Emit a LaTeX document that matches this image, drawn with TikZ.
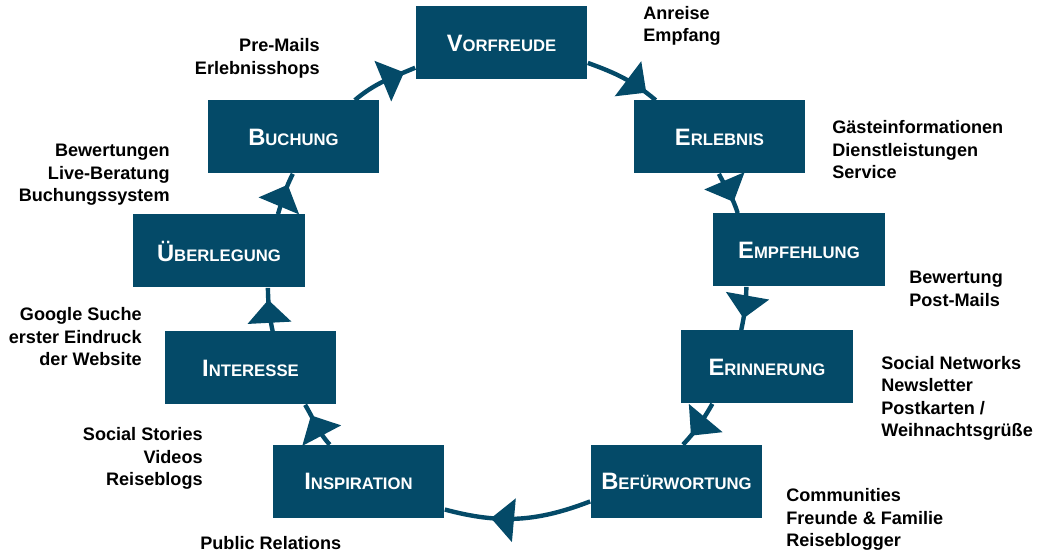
\documentclass[tikz,border=0pt]{standalone}
\usepackage{fontspec}
\setmainfont{Liberation Sans}
\usepackage{tikz}
\usetikzlibrary{arrows.meta,decorations.markings}
\definecolor{petrol}{RGB}{4,74,104}
\newcommand{\capword}[2]{{\fontsize{13.5}{16}\selectfont #1}{\fontsize{9.5}{16}\selectfont #2}}

\begin{document}
\begin{tikzpicture}[x=0.02cm, y=0.02cm,
            stage/.style={fill=petrol, text=white, font=\bfseries, minimum width=3.44cm, minimum height=1.46cm, inner sep=0pt},
            notes/.style={font=\bfseries\fontsize{10.3}{12.8}\selectfont, inner sep=0pt},
            ringarrow/.style={draw=petrol, line width=2.5pt, postaction={decorate},
                decoration={markings, mark=at position #1 with {\arrow{Triangle[length=0.46cm,width=0.86cm]}}}},
            ringarrow/.default=-0.24cm]
            \useasboundingbox (0,0) rectangle (1046,557);

            \node (vorfreude) [stage] at (501.5,514) {\capword{V}{ORFREUDE}};
            \node (erlebnis) [stage] at (719.5,420) {\capword{E}{RLEBNIS}};
            \node (empfehlung) [stage] at (799,307) {\capword{E}{MPFEHLUNG}};
            \node (erinnerung) [stage] at (767,190) {\capword{E}{RINNERUNG}};
            \node (befuerwortung) [stage] at (676.5,75.5) {\capword{B}{EFÜRWORTUNG}};
            \node (inspiration) [stage] at (358.5,75.5) {\capword{I}{NSPIRATION}};
            \node (interesse) [stage] at (250.5,189) {\capword{I}{NTERESSE}};
            \node (ueberlegung) [stage] at (219,306) {\capword{Ü}{BERLEGUNG}};
            \node (buchung) [stage] at (293.5,420) {\capword{B}{UCHUNG}};

            \node (anreise) [notes, anchor=west, align=left] at (643,531) {Anreise\\Empfang};
            \node (gaeste) [notes, anchor=west, align=left] at (832,407) {Gästeinformationen\\Dienstleistungen\\Service};
            \node (bewertung) [notes, anchor=west, align=left] at (909,268) {Bewertung\\Post-Mails};
            \node (social) [notes, anchor=west, align=left] at (881,158.5) {Social Networks\\Newsletter\\Postkarten /\\Weihnachtsgrüße};
            \node (communities) [notes, anchor=west, align=left] at (786,37.5) {Communities\\Freunde \& Familie\\Reiseblogger};
            \node (public) [notes, anchor=west] at (200,14) {Public Relations};
            \node (stories) [notes, anchor=east, align=right] at (203,98.5) {Social Stories\\Videos\\Reiseblogs};
            \node (google) [notes, anchor=east, align=right] at (142,220) {Google Suche\\erster Eindruck\\der Website};
            \node (bewertungen) [notes, anchor=east, align=right] at (170,382) {Bewertungen\\Live-Beratung\\Buchungssystem};
            \node (premails) [notes, anchor=east, align=right] at (320,498.5) {Pre-Mails\\Erlebnisshops};

            \draw[ringarrow] (vorfreude.-13) to[out=-20, in=140] (erlebnis.150);
            \draw[ringarrow] (erlebnis.-91) to[out=-63, in=107] (empfehlung.149);
            \draw[ringarrow] (empfehlung.-145) to[out=-91, in=78] (erinnerung.125);
            \draw[ringarrow] (erinnerung.-146) to[out=-120, in=47] (befuerwortung.80);
            \draw[ringarrow=-0.94cm] (befuerwortung.-167) to[out=-159, in=-15] (inspiration.-18);
            \draw[ringarrow] (inspiration.128) to[out=132, in=-59] (interesse.-34);
            \draw[ringarrow] (interesse.59) to[out=102, in=-89] (ueberlegung.-37);
            \draw[ringarrow] (ueberlegung.32) to[out=73, in=-117] (buchung.-91);
            \draw[ringarrow] (buchung.31) to[out=40, in=-157] (vorfreude.-164);
        \end{tikzpicture}
\end{document}
